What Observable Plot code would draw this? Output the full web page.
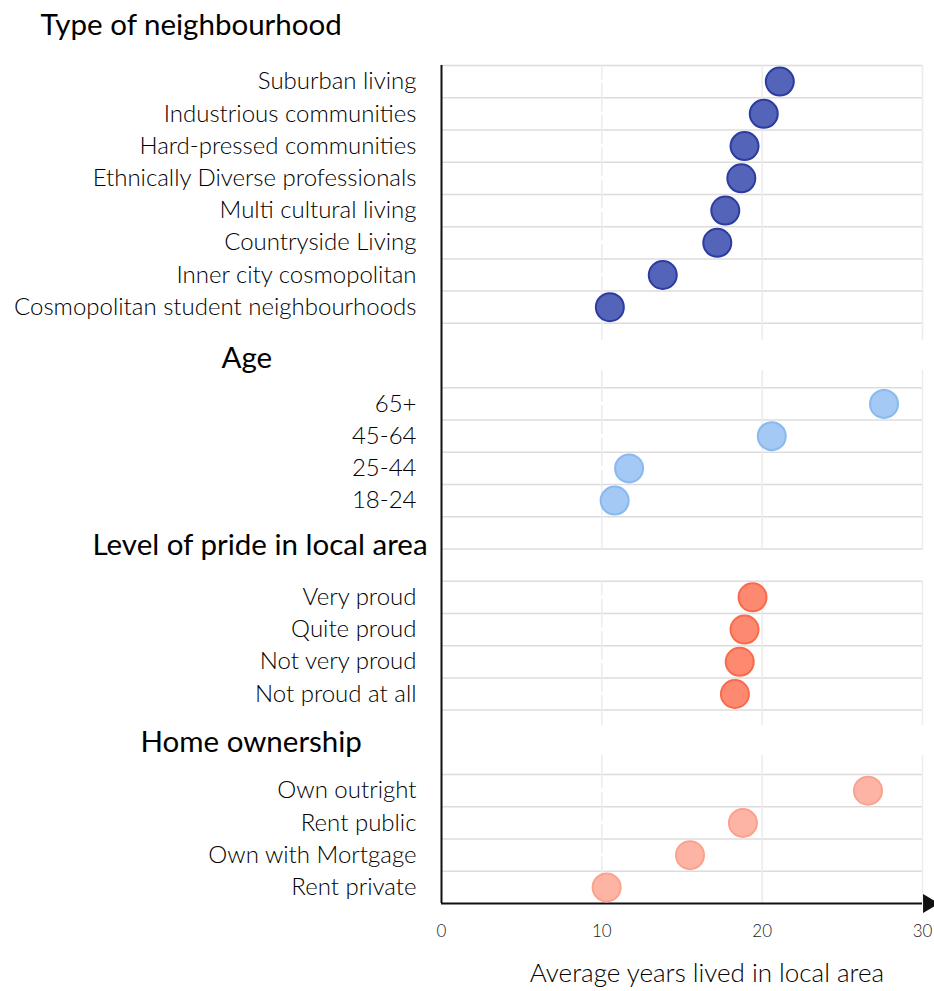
<!DOCTYPE html>
<html><head><meta charset="utf-8">
<script src="https://cdn.jsdelivr.net/npm/d3@7"></script>
<script src="https://cdn.jsdelivr.net/npm/@observablehq/plot@0.6"></script>
<style>
html,body{margin:0;padding:0;background:#fff;}
#chart{width:934px;height:991px;overflow:hidden;}
</style></head><body><div id="chart"></div>
<script>
// ---- data ----
const groupTitles = ["Type of neighbourhood", "Age", "Level of pride in local area", "Home ownership"];
const neighbourhoodLabels = ["Suburban living", "Industrious communities", "Hard-pressed communities", "Ethnically Diverse professionals", "Multi cultural living", "Countryside Living", "Inner city cosmopolitan", "Cosmopolitan student neighbourhoods"];
const neighbourhoodValues = [21.1, 20.1, 18.9, 18.7, 17.7, 17.2, 13.8, 10.5];
const ageLabels = ["65+", "45-64", "25-44", "18-24"];
const ageValues = [27.6, 20.6, 11.7, 10.8];
const prideLabels = ["Very proud", "Quite proud", "Not very proud", "Not proud at all"];
const prideValues = [19.4, 18.9, 18.6, 18.3];
const homeLabels = ["Own outright", "Rent public", "Own with Mortgage", "Rent private"];
const homeValues = [26.6, 18.8, 15.5, 10.3];
const xTicks = [0, 10, 20, 30];
const xTitle = "Average years lived in local area";

// ---- layout (rows in row units, top = -0.5, bottom = 25.5) ----
const sectionStartRows = [0, 10, 16, 22];
const headerRows = [-1.74, 8.59, 14.4, 20.51];
const headerLeft = [40, 221, 92, 140];
const hLineSpans = [[-0.5, 7.5], [9.5, 14.5], [15.5, 19.5], [21.5, 24.5]];
const vSpans = [[-0.5, 8.03], [8.96, 14.55], [15.5, 19.98], [20.91, 25.5]];
const fills = ["#5464b8", "#a3c9f4", "#fd8a70", "#fdb4a4"];
const strokes = ["#2c3ca0", "#88b9f1", "#fa6a4a", "#fba28e"];
const W = 934, H = 991, ML = 441, MR = 12, MT = 65, MB = 88;

const groups = [
  {labels: neighbourhoodLabels, values: neighbourhoodValues},
  {labels: ageLabels, values: ageValues},
  {labels: prideLabels, values: prideValues},
  {labels: homeLabels, values: homeValues}
];
const rows = groups.flatMap((g, gi) => g.labels.map((label, i) => ({group: gi, label, value: g.values[i], row: sectionStartRows[gi] + i})));
const labelByRow = new Map(rows.map(d => [d.row, d.label]));

const hLines = hLineSpans.flatMap(([a, b]) => d3.range(a, b + 0.01, 1));
const vLines = vSpans.flatMap(([a, b]) => [20, 30].map(x => ({x, y1: a, y2: b})));
// x = 10 line, broken at row centres
const v10 = vSpans.flatMap(([a, b], gi) => {
  const centres = groups[gi].labels.map((_, i) => sectionStartRows[gi] + i).filter(c => c > a && c < b);
  const pts = [a, ...centres.flatMap(c => [c - 0.05, c + 0.05]), b];
  const segs = [];
  for (let i = 0; i < pts.length; i += 2) segs.push({x: 10, y1: pts[i], y2: pts[i + 1]});
  return segs;
});

const marks = [
  Plot.ruleY(hLines, {x1: 0, x2: 30, stroke: "#dcdcdc", strokeWidth: 1.5}),
  Plot.ruleX(vLines, {x: "x", y1: "y1", y2: "y2", stroke: "#ececec", strokeWidth: 1.5}),
  Plot.ruleX(v10, {x: "x", y1: "y1", y2: "y2", stroke: "#ececec", strokeWidth: 1.5}),
  Plot.ruleX([0], {y1: -0.5, y2: 25.5, stroke: "#111", strokeWidth: 2}),
  Plot.ruleY([25.5], {x1: 0, x2: 30, stroke: "#111", strokeWidth: 2}),
  Plot.dot([30], {x: d => d, y: 25.5, symbol: "triangle", rotate: 90, r: 7, fill: "#111", dx: 6}),
  Plot.dot(rows, {x: "value", y: "row", r: 14, fill: d => fills[d.group], stroke: d => strokes[d.group], strokeWidth: 2}),
  Plot.axisY(rows.map(d => d.row), {anchor: "left", tickSize: 0, tickPadding: 25, tickFormat: r => labelByRow.get(r), fontSize: 24, fontWeight: 300, fill: "#000", label: null}),
  Plot.axisX(xTicks, {anchor: "bottom", tickSize: 0, tickPadding: 21, fontSize: 17, fontWeight: 300, fill: "#222", label: null}),
  Plot.text([xTitle], {frameAnchor: "bottom", dx: 25, dy: 70, lineAnchor: "middle", fontSize: 26, fontWeight: 300, fill: "#000"}),
  ...groupTitles.map((t, i) => Plot.text([t], {frameAnchor: "left", y: () => headerRows[i], dx: headerLeft[i] - ML, textAnchor: "start", lineAnchor: "middle", fontSize: 29.5, fontWeight: 400, fill: "#000"}))
];

const chart = Plot.plot({
  width: W, height: H,
  marginLeft: ML, marginRight: MR, marginTop: MT, marginBottom: MB,
  style: {fontFamily: "Lato, sans-serif", background: "#fff", overflow: "visible"},
  x: {domain: [0, 30]},
  y: {domain: [-0.5, 25.5], reverse: true},
  color: {type: "identity"},
  marks
});
document.getElementById("chart").append(chart);
</script></body></html>
